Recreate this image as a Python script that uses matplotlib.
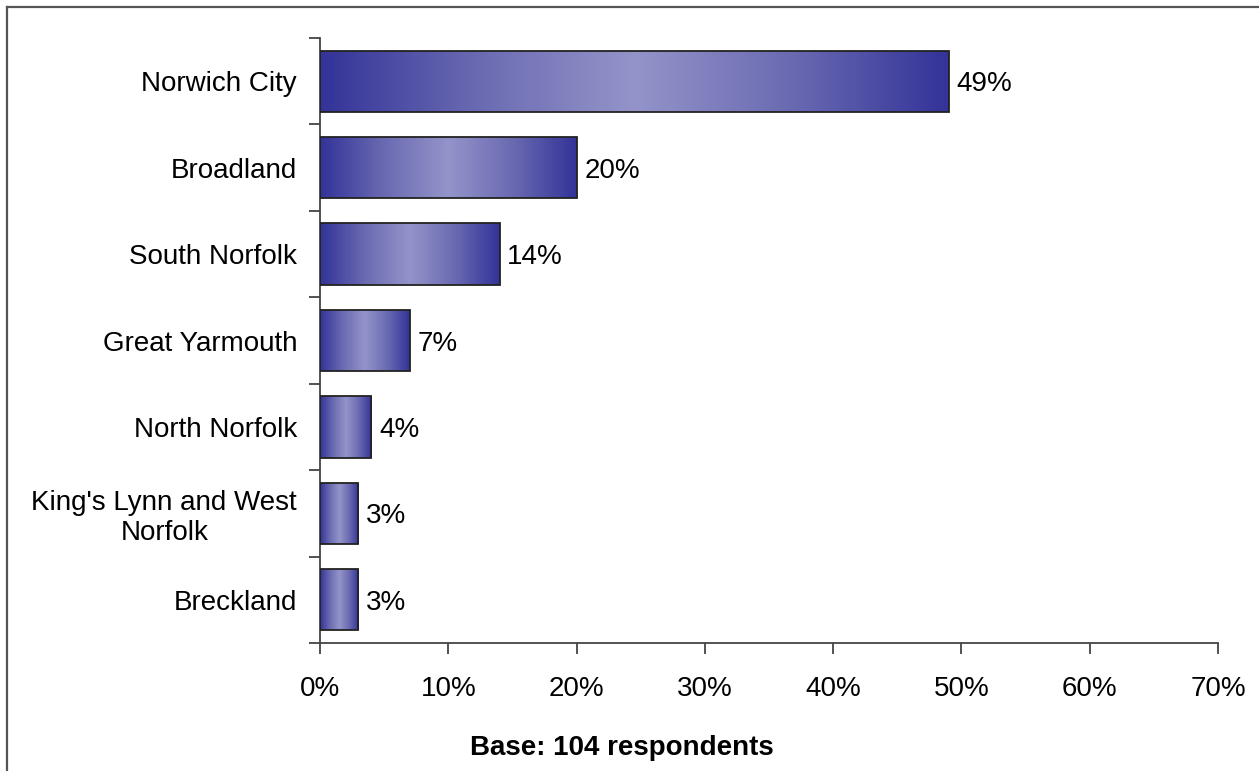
import numpy as np
import matplotlib
matplotlib.use("Agg")
import matplotlib.pyplot as plt
from matplotlib.colors import LinearSegmentedColormap

districts = ["Norwich City", "Broadland", "South Norfolk", "Great Yarmouth",
             "North Norfolk", "King's Lynn and West\nNorfolk", "Breckland"]
shares = [49, 20, 14, 7, 4, 3, 3]
x_ticks = [0, 10, 20, 30, 40, 50, 60, 70]

plt.rcParams['font.family'] = ['Liberation Sans', 'DejaVu Sans']
FS = 20

W, H = 1259, 771
fig = plt.figure(figsize=(W / 100, H / 100), dpi=100)
ax = fig.add_axes([320 / W, 1 - 643 / H, (1218 - 320) / W, (643 - 38) / H])

# dark-light-dark gradient across each bar
grad = LinearSegmentedColormap.from_list(
    "bar", [(0, "#333399"), (0.25, "#6a6ab2"), (0.5, "#9494ca"),
            (0.75, "#6a6ab2"), (1, "#333399")])
g = np.linspace(0, 1, 256).reshape(1, -1)

ypos = np.arange(len(districts))
bars = ax.barh(ypos, shares, height=0.71, color="none", edgecolor="#222222",
               linewidth=1.3, zorder=3)
for b, v in zip(bars, shares):
    y0 = b.get_y()
    im = ax.imshow(g, cmap=grad, aspect="auto", extent=(0, v, y0, y0 + b.get_height()),
                   zorder=2, interpolation="bilinear")
    im.set_clip_path(b)
    ax.text(v + 0.6, b.get_y() + b.get_height() / 2, f"{v}%", va="center_baseline",
            ha="left", fontsize=FS)

ax.set_xlim(0, 70)
ax.set_ylim(len(districts) - 0.5, -0.5)
ax.set_xticks(x_ticks)
ax.set_xticklabels([f"{t}%" for t in x_ticks], fontsize=FS)
ax.set_yticks(ypos)
ax.set_yticklabels(districts, fontsize=FS, multialignment="center")
ax.set_yticks(np.arange(len(districts) + 1) - 0.5, minor=True)
ax.tick_params(axis="y", which="major", length=0, pad=16.5)
ax.tick_params(axis="y", which="minor", length=8, width=1.3, color="#444444")
ax.tick_params(axis="x", length=8, width=1.3, color="#444444", pad=16)
for s in ["top", "right"]:
    ax.spines[s].set_visible(False)
for s in ["left", "bottom"]:
    ax.spines[s].set_color("#444444")
    ax.spines[s].set_linewidth(1.3)

# outer frame, top and left edges only
fig.add_artist(plt.Line2D([7 / W, 1], [1 - 7 / H, 1 - 7 / H], color="#555555", lw=1.6))
fig.add_artist(plt.Line2D([7 / W, 7 / W], [0, 1 - 7 / H], color="#555555", lw=1.6))

fig.text(622 / W, 1 - 748 / H, "Base: 104 respondents", ha="center", va="center",
         fontsize=FS, fontweight="bold")

fig.savefig("out.png", dpi=100)
